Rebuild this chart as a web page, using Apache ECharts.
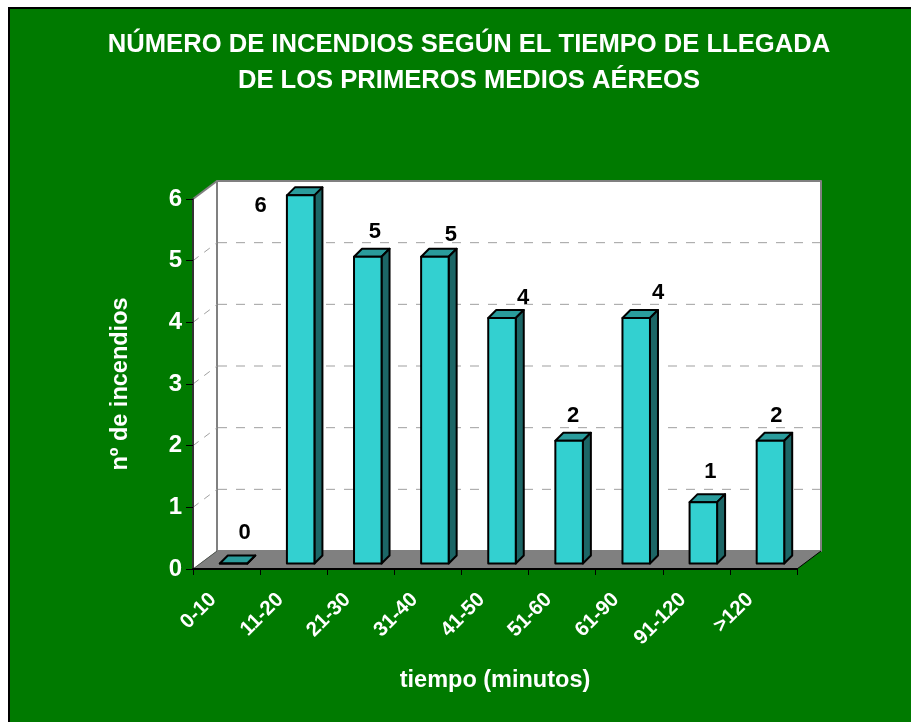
<!DOCTYPE html>
<html>
<head>
<meta charset="utf-8">
<style>
  html, body { margin: 0; padding: 0; background: #fff; overflow: hidden; }
  #chart { width: 911px; height: 722px; }
</style>
<script src="https://cdn.jsdelivr.net/npm/echarts@6/dist/echarts.min.js"></script>
</head>
<body>
<div id="chart"></div>
<script>
const categories = ['0-10', '11-20', '21-30', '31-40', '41-50', '51-60', '61-90', '91-120', '>120']
const incendios = [0, 6, 5, 5, 4, 2, 4, 1, 2]
const yTicks = [1, 2, 3, 4, 5]

// etiquetas movidas a mano en el original, respecto a la cara frontal de cada barra
const labelNudge = [[11, -31], [-40, 11], [7, -25], [16, -22], [21, -20], [4, -25], [22, -25], [7, -30], [6, -25]]

const FONT = '"Liberation Sans", Arial, sans-serif'
const GREEN = '#007a00'
const GRAY = '#808080'

// profundidad de la caja 3D y de las barras
const boxDx = 24
const boxDy = 18
const barDx = 8
const barDy = 8

const poly = (points, fill, stroke, lineWidth) => ({
  type: 'polygon',
  shape: { points },
  style: { fill, stroke: stroke || 'none', lineWidth: lineWidth || 0, lineJoin: 'round' },
})

const dashed = (x1, y1, x2, y2, dash) => ({
  type: 'line',
  shape: { x1, y1, x2, y2 },
  style: { stroke: '#a0a0a0', lineWidth: 1, lineDash: dash },
})

const renderWalls = (params, api) => {
  const c = params.coordSys
  const l = c.x
  const r = c.x + c.width
  const t = c.y
  const b = c.y + c.height
  const children = [
    poly([[l, b], [l + boxDx, b - boxDy], [l + boxDx, t - boxDy], [l, t]], '#fff'),
    poly([[l + boxDx, b - boxDy], [r + boxDx, b - boxDy], [r + boxDx, t - boxDy], [l + boxDx, t - boxDy]], '#fff', GRAY, 2),
    poly([[l, b], [r, b], [r + boxDx, b - boxDy], [l + boxDx, b - boxDy]], GRAY),
    { type: 'line', shape: { x1: l, y1: t, x2: l + boxDx, y2: t - boxDy }, style: { stroke: GRAY, lineWidth: 2 } },
    { type: 'line', shape: { x1: r, y1: b, x2: r + boxDx, y2: b - boxDy }, style: { stroke: '#000', lineWidth: 1 } },
    { type: 'line', shape: { x1: l, y1: b, x2: l + boxDx, y2: b - boxDy }, style: { stroke: '#555', lineWidth: 1 } },
  ]
  yTicks.forEach((v) => {
    const y = api.coord([0, v])[1]
    children.push(dashed(l, y, l + boxDx, y - boxDy, [7, 7]))
    children.push(dashed(l + boxDx + 1, y - boxDy, r + boxDx - 1, y - boxDy, [9, 9]))
  })
  return { type: 'group', children }
}

const renderBar = (params, api) => {
  const i = api.value(0)
  const top = api.coord([i, api.value(1)])
  const base = api.coord([i, 0])
  const w = api.size([1, 0])[0] * 0.41
  const x1 = top[0] + 7 - w / 2
  const x2 = x1 + w
  const y2 = base[1] - 5.5
  const y1 = y2 - (base[1] - top[1]) * 0.995
  const stroke = '#000'
  const nudge = labelNudge[params.dataIndex]
  return {
    type: 'group',
    children: [
      poly([[x1, y1], [x2, y1], [x2 + barDx, y1 - barDy], [x1 + barDx, y1 - barDy]], '#2a9c9c', stroke, 2),
      poly([[x2, y1], [x2 + barDx, y1 - barDy], [x2 + barDx, y2 - barDy], [x2, y2]], '#1c6666', stroke, 2),
      poly([[x1, y1], [x2, y1], [x2, y2], [x1, y2]], '#33d0d0', stroke, 2),
      {
        type: 'text',
        x: (x1 + x2) / 2 + nudge[0],
        y: y1 + nudge[1],
        style: {
          text: String(api.value(1)),
          fill: '#000',
          font: 'bold 22px ' + FONT,
          align: 'center',
          verticalAlign: 'middle',
        },
      },
    ],
  }
}

const chart = echarts.init(document.getElementById('chart'))
chart.setOption({
  animation: false,
  backgroundColor: '#fff',
  textStyle: { fontFamily: FONT },
  graphic: [
    {
      type: 'rect',
      z: -10,
      silent: true,
      shape: { x: 9, y: 8, width: 1000, height: 1000 },
      style: { fill: GREEN, stroke: '#000', lineWidth: 2 },
    },
  ],
  title: {
    text: 'NÚMERO DE INCENDIOS SEGÚN EL TIEMPO DE LLEGADA\nDE LOS PRIMEROS MEDIOS AÉREOS',
    left: 464,
    top: 22,
    textAlign: 'center',
    textStyle: { color: '#fff', fontSize: 25.6, fontWeight: 'bold', lineHeight: 36, fontFamily: FONT },
  },
  grid: { left: 193, right: 114, top: 199, bottom: 153 },
  xAxis: {
    type: 'category',
    data: categories,
    z: 5,
    name: 'tiempo (minutos)',
    nameLocation: 'middle',
    nameGap: 100,
    nameTextStyle: { color: '#fff', fontSize: 23.5, fontWeight: 'bold', fontFamily: FONT },
    axisLine: { lineStyle: { color: '#000', width: 2 } },
    axisTick: { show: true, alignWithLabel: false, length: 6, lineStyle: { color: '#000', width: 1 } },
    axisLabel: { color: '#fff', fontSize: 20.5, fontWeight: 'bold', rotate: 45, margin: 14, padding: [0, 19, 0, 0], interval: 0, fontFamily: FONT },
  },
  yAxis: {
    type: 'value',
    min: 0,
    max: 6,
    interval: 1,
    z: 5,
    name: 'nº de incendios',
    nameLocation: 'middle',
    nameGap: 60,
    nameTextStyle: { color: '#fff', fontSize: 23.5, fontWeight: 'bold', fontFamily: FONT },
    splitLine: { show: false },
    axisLine: { show: true, lineStyle: { color: '#333', width: 2 } },
    axisTick: { show: true, length: 7, lineStyle: { color: '#000', width: 1 } },
    axisLabel: { color: '#fff', fontSize: 24, fontWeight: 'bold', margin: 11, fontFamily: FONT },
  },
  series: [
    { type: 'custom', coordinateSystem: 'cartesian2d', z: 1, silent: true, clip: false, renderItem: renderWalls, data: [[0, 0]] },
    {
      type: 'custom',
      coordinateSystem: 'cartesian2d',
      z: 3,
      silent: true,
      clip: false,
      renderItem: renderBar,
      encode: { x: 0, y: 1 },
      data: incendios.map((v, i) => [i, v]),
    },
  ],
})
</script>
</body>
</html>
